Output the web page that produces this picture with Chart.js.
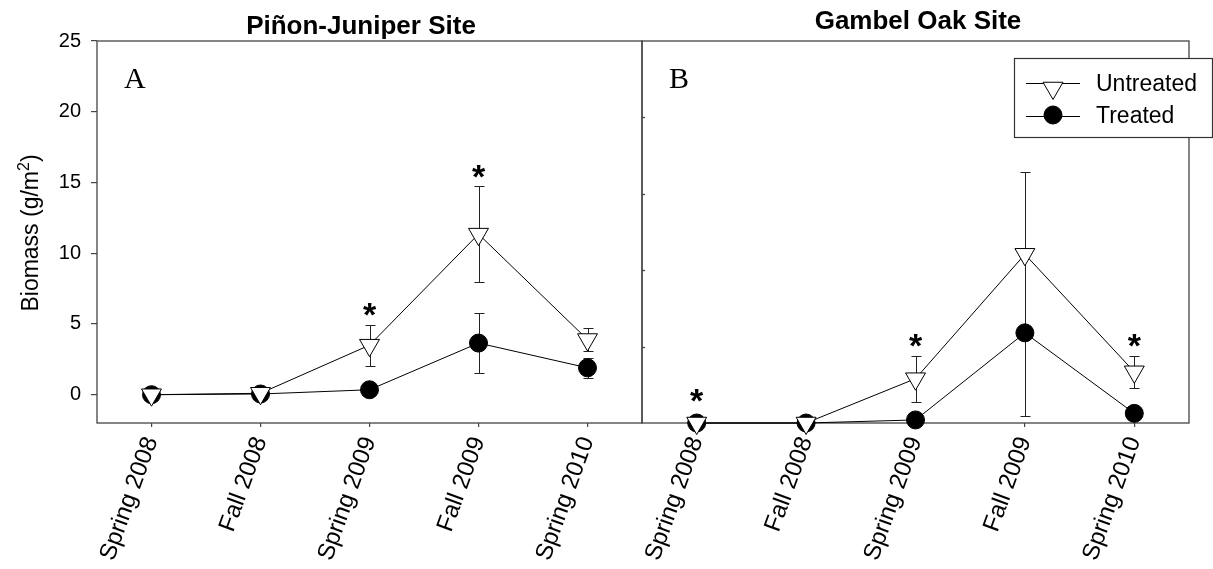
<!DOCTYPE html>
<html>
<head>
<meta charset="utf-8">
<script src="https://cdn.jsdelivr.net/npm/chart.js@4.4.0/dist/chart.umd.min.js"></script>
<style>
  html, body { margin: 0; padding: 0; background: #fff; }
  #wrap { position: relative; width: 1213px; height: 569px; overflow: hidden; }
  #wrap canvas { position: absolute; left: 0; top: 0; }
</style>
</head>
<body>
<div id="wrap">
  <canvas id="pj" width="1213" height="569"></canvas>
  <canvas id="go" width="1213" height="569"></canvas>
</div>
<script>
// Sampling dates shared by both sites
const seasons = ['Spring 2008', 'Fall 2008', 'Spring 2009', 'Fall 2009', 'Spring 2010'];
const yTicks = [0, 5, 10, 15, 20, 25];

// Piñon-juniper site: mean biomass (g/m2) and standard error
const pjUntreated   = [0, 0.1, 3.5, 11.35, 3.9];
const pjUntreatedSE = [0, 0, 1.45, 3.37, 0.8];
const pjTreated     = [0, 0.05, 0.35, 3.65, 1.9];
const pjTreatedSE   = [0, 0, 0, 2.1, 0.72];
const pjSignificant = ['Spring 2009', 'Fall 2009'];

// Gambel oak site: mean biomass (g/m2) and standard error
const goUntreated   = [0, 0, 2.9, 11.04, 3.35];
const goUntreatedSE = [0, 0, 1.5, 5.36, 1.03];
const goTreated     = [0, 0, 0.2, 5.9, 0.63];
const goTreatedSE   = [0, 0, 0, 5.44, 0];
const goSignificant = ['Spring 2008', 'Spring 2009', 'Spring 2010'];

const SANS = '"Liberation Sans", Arial, sans-serif';
const SERIF = '"Liberation Serif", "Times New Roman", serif';
const W = 1213, H = 569;
const PLOT_TOP = 41, PLOT_BOTTOM = 423;

// Box around each panel, plus small inward ticks where requested
const framePlugin = {
  id: 'frame',
  beforeDatasetsDraw(chart, args, opts) {
    const { ctx, chartArea: a } = chart;
    ctx.save();
    ctx.strokeStyle = '#444';
    ctx.lineWidth = 1.3;
    ctx.strokeRect(a.left, a.top, a.right - a.left, a.bottom - a.top);
    if (opts.innerTicks) {
      const ys = chart.scales.y;
      yTicks.forEach(v => {
        if (v <= ys.min || v >= ys.max) return;
        const py = Math.round(ys.getPixelForValue(v)) + 0.5;
        ctx.beginPath();
        ctx.moveTo(a.left, py);
        ctx.lineTo(a.left + 3, py);
        ctx.stroke();
      });
    }
    ctx.restore();
  }
};

// Vertical standard-error bars with caps, drawn beneath the markers
const errorBarPlugin = {
  id: 'errorBars',
  beforeDatasetsDraw(chart) {
    const { ctx } = chart;
    const xs = chart.scales.x, ys = chart.scales.y;
    ctx.save();
    ctx.strokeStyle = '#222';
    ctx.lineWidth = 1;
    chart.data.datasets.forEach(ds => {
      (ds.errors || []).forEach((e, i) => {
        if (!e) return;
        const px = Math.round(xs.getPixelForValue(i)) + 0.5;
        const hi = Math.round(ys.getPixelForValue(ds.data[i] + e)) + 0.5;
        const lo = Math.round(ys.getPixelForValue(ds.data[i] - e)) + 0.5;
        ctx.beginPath();
        ctx.moveTo(px, hi); ctx.lineTo(px, lo);
        ctx.moveTo(px - 5, hi); ctx.lineTo(px + 5, hi);
        ctx.moveTo(px - 5, lo); ctx.lineTo(px + 5, lo);
        ctx.stroke();
      });
    });
    ctx.restore();
  }
};

// Asterisks above the untreated series where the difference is significant
const starPlugin = {
  id: 'stars',
  afterDatasetsDraw(chart, args, opts) {
    const { ctx } = chart;
    const ds = chart.data.datasets[0];
    const xs = chart.scales.x, ys = chart.scales.y;
    const size = 34;
    ctx.save();
    ctx.fillStyle = '#000';
    ctx.font = 'bold ' + size + 'px ' + SANS;
    ctx.textAlign = 'center';
    ctx.textBaseline = 'alphabetic';
    (opts.at || []).forEach(label => {
      const i = seasons.indexOf(label);
      const errTop = ys.getPixelForValue(ds.data[i] + (ds.errors[i] || 0));
      const markTop = ys.getPixelForValue(ds.data[i]) - 12;
      const cy = Math.min(errTop, markTop) - 18;
      ctx.fillText('*', xs.getPixelForValue(i), cy + 0.57 * size);
    });
    ctx.restore();
  }
};

// Panel heading and panel letter
const panelTextPlugin = {
  id: 'panelText',
  afterDraw(chart, args, opts) {
    const { ctx, chartArea: a } = chart;
    ctx.save();
    ctx.fillStyle = '#000';
    ctx.textBaseline = 'alphabetic';
    ctx.font = 'bold 26px ' + SANS;
    ctx.textAlign = 'center';
    ctx.fillText(opts.title, opts.titleX, opts.titleY);
    ctx.font = '30px ' + SERIF;
    ctx.textAlign = 'left';
    ctx.fillText(opts.letter, a.left + 27, a.top + 47);
    ctx.restore();
  }
};

// Rotated y-axis title with a raised exponent
const yTitlePlugin = {
  id: 'yTitle',
  afterDraw(chart, args, opts) {
    if (!opts.show) return;
    const { ctx } = chart;
    const main = '23px ' + SANS, sup = '16px ' + SANS;
    const parts = [['Biomass (g/m', main, 0], ['2', sup, -9], [')', main, 0]];
    ctx.save();
    ctx.fillStyle = '#000';
    ctx.textBaseline = 'alphabetic';
    ctx.textAlign = 'left';
    let total = 0;
    parts.forEach(p => { ctx.font = p[1]; total += ctx.measureText(p[0]).width; });
    ctx.translate(38, 233);
    ctx.rotate(-Math.PI / 2);
    let x = -total / 2;
    parts.forEach(p => {
      ctx.font = p[1];
      ctx.fillText(p[0], x, p[2]);
      x += ctx.measureText(p[0]).width;
    });
    ctx.restore();
  }
};

// Legend box with line-and-marker samples
const legendPlugin = {
  id: 'boxLegend',
  afterDraw(chart, args, opts) {
    if (!opts.show) return;
    const { ctx } = chart;
    const box = { x: 1014, y: 58, w: 198, h: 79 };
    ctx.save();
    ctx.fillStyle = '#fff';
    ctx.fillRect(box.x, box.y, box.w, box.h);
    ctx.strokeStyle = '#333';
    ctx.lineWidth = 1.2;
    ctx.strokeRect(box.x + 0.5, box.y + 0.5, box.w, box.h);
    const rows = [
      { ds: chart.data.datasets[0], lineY: 83, markY: 88, textY: 91 },
      { ds: chart.data.datasets[1], lineY: 116, markY: 115, textY: 123 }
    ];
    rows.forEach(r => {
      ctx.strokeStyle = '#000';
      ctx.lineWidth = 1;
      ctx.beginPath();
      ctx.moveTo(1026, r.lineY + 0.5);
      ctx.lineTo(1080, r.lineY + 0.5);
      ctx.stroke();
      ctx.fillStyle = r.ds.pointBackgroundColor;
      ctx.strokeStyle = '#000';
      Chart.helpers.drawPoint(ctx, {
        pointStyle: r.ds.pointStyle,
        rotation: r.ds.pointRotation || 0,
        radius: r.ds.pointRadius,
        borderWidth: 1
      }, 1053, r.markY);
      ctx.fillStyle = '#000';
      ctx.font = '23px ' + SANS;
      ctx.textAlign = 'left';
      ctx.textBaseline = 'alphabetic';
      ctx.fillText(r.ds.label, 1096, r.textY);
    });
    ctx.restore();
  }
};

function seriesSet(untreated, untreatedSE, treated, treatedSE) {
  const common = { borderColor: '#000', borderWidth: 1, tension: 0, fill: false, clip: false,
                   pointBorderColor: '#000', pointBorderWidth: 1, pointHoverRadius: 0 };
  return [
    Object.assign({}, common, {
      label: 'Untreated', data: untreated, errors: untreatedSE,
      pointStyle: 'triangle', pointRotation: 180, pointRadius: 11.5,
      pointBackgroundColor: '#fff'
    }),
    Object.assign({}, common, {
      label: 'Treated', data: treated, errors: treatedSE,
      pointStyle: 'circle', pointRadius: 9,
      pointBackgroundColor: '#000'
    })
  ];
}

function panel(canvasId, cfg) {
  const xAxis = {
    type: 'category',
    offset: true,
    grid: { display: true, drawOnChartArea: false, drawTicks: true, tickLength: 4,
            color: '#444', lineWidth: 1.2, offset: false },
    border: { display: false },
    ticks: { color: '#000', font: { family: SANS, size: 24 }, minRotation: 70, maxRotation: 70,
             padding: 6, autoSkip: false },
    afterFit: s => { s.height = H - PLOT_BOTTOM; }
  };
  const yAxis = {
    type: 'linear',
    min: cfg.yMin, max: 25,
    border: { display: false },
    afterBuildTicks: s => { s.ticks = yTicks.map(v => ({ value: v })); },
    afterFit: s => { s.width = cfg.yWidth; }
  };
  if (cfg.yLabels) {
    yAxis.grid = { display: true, drawOnChartArea: false, drawTicks: true, tickLength: 6,
                   color: '#444', lineWidth: 1.2 };
    yAxis.ticks = { color: '#000', font: { family: SANS, size: 20 }, padding: 10 };
  } else {
    yAxis.grid = { display: false };
    yAxis.ticks = { display: false };
  }
  return new Chart(document.getElementById(canvasId), {
    type: 'line',
    data: { labels: seasons, datasets: cfg.datasets },
    options: {
      responsive: false,
      animation: false,
      events: [],
      layout: { autoPadding: false, padding: cfg.padding },
      scales: { x: xAxis, y: yAxis },
      plugins: {
        legend: { display: false },
        title: { display: false },
        tooltip: { enabled: false },
        frame: { innerTicks: !cfg.yLabels },
        stars: { at: cfg.stars },
        panelText: cfg.text,
        yTitle: { show: cfg.yLabels },
        boxLegend: { show: cfg.legend }
      }
    },
    plugins: [framePlugin, errorBarPlugin, starPlugin, panelTextPlugin, yTitlePlugin, legendPlugin]
  });
}

panel('pj', {
  datasets: seriesSet(pjUntreated, pjUntreatedSE, pjTreated, pjTreatedSE),
  yMin: -2, yWidth: 97, yLabels: true, legend: false,
  padding: { left: 0, top: PLOT_TOP, right: W - 642, bottom: 0 },
  stars: pjSignificant,
  text: { title: 'Piñon-Juniper Site', titleX: 361, titleY: 34, letter: 'A' }
});

panel('go', {
  datasets: seriesSet(goUntreated, goUntreatedSE, goTreated, goTreatedSE),
  yMin: 0, yWidth: 0, yLabels: false, legend: true,
  padding: { left: 642, top: PLOT_TOP, right: W - 1189, bottom: 0 },
  stars: goSignificant,
  text: { title: 'Gambel Oak Site', titleX: 918, titleY: 29, letter: 'B' }
});
</script>
</body>
</html>
